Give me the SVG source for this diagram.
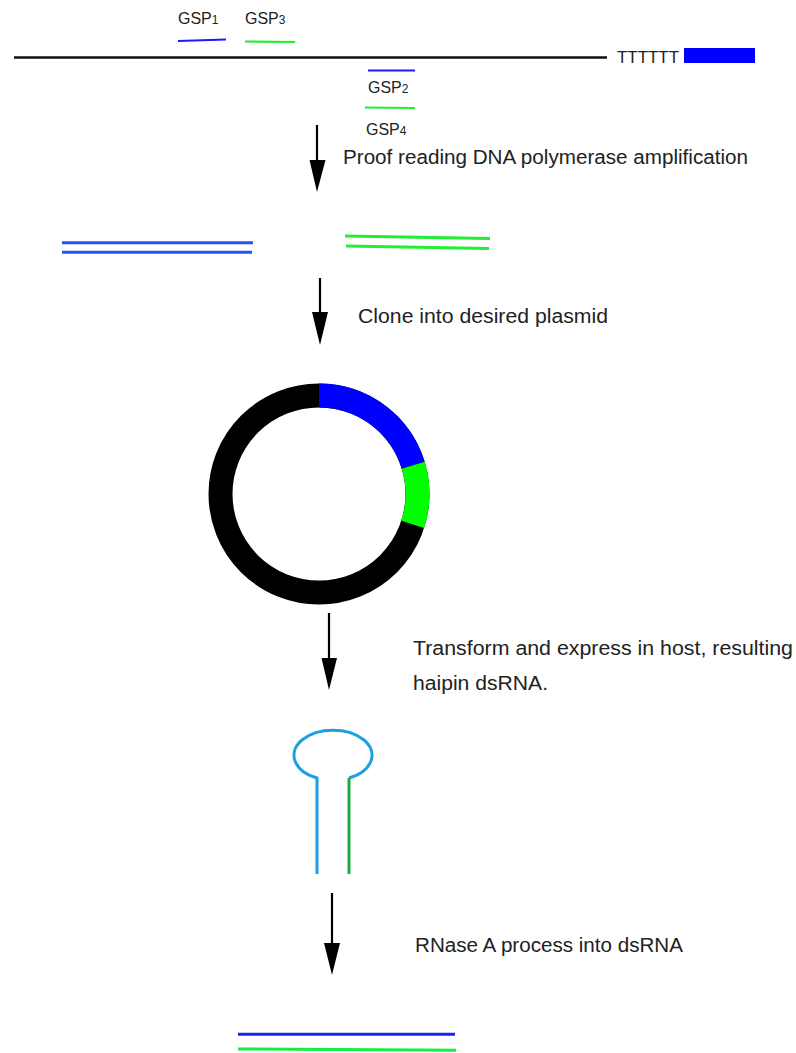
<svg xmlns="http://www.w3.org/2000/svg" width="796" height="1053" viewBox="0 0 796 1053">
<style>
.t{font-family:"Liberation Sans",Arial,sans-serif;fill:#222}
.lab{font-size:16px}
.sub{font-size:12px}
.step{font-size:20px}
.arr{stroke:#000;stroke-width:2.2;fill:none}
.head{fill:#000}
</style>
<rect width="796" height="1053" fill="#fff"/>
<g id="template">
<line x1="14" y1="57.5" x2="607" y2="57.5" stroke="#111" stroke-width="2.6"/>
<text class="t" x="617" y="63" font-size="17" textLength="62" lengthAdjust="spacingAndGlyphs" fill="#333">TTTTTT</text>
<rect x="684" y="48" width="71" height="15" fill="#0000ff"/>
</g>
<g id="primers">
<text class="t lab" x="178" y="24">GSP<tspan class="sub">1</tspan></text>
<text class="t lab" x="245" y="24">GSP<tspan class="sub">3</tspan></text>
<line x1="178" y1="41" x2="226" y2="39.5" stroke="#1a1aff" stroke-width="2.2"/>
<line x1="245" y1="41.5" x2="295" y2="42" stroke="#22ee33" stroke-width="2.2"/>
<line x1="368" y1="70.5" x2="415" y2="70.5" stroke="#1a1aff" stroke-width="2.2"/>
<text class="t lab" x="368" y="93">GSP<tspan class="sub">2</tspan></text>
<line x1="365" y1="107.5" x2="415" y2="108" stroke="#22ee33" stroke-width="2.2"/>
<text class="t lab" x="366" y="135">GSP<tspan class="sub">4</tspan></text>
</g>
<g id="pcr-products">
<line x1="62" y1="242.7" x2="253" y2="242.7" stroke="#2255f0" stroke-width="3"/>
<line x1="62" y1="252.3" x2="252" y2="252.3" stroke="#2255f0" stroke-width="3"/>
<line x1="345" y1="236" x2="490" y2="238.5" stroke="#22ee33" stroke-width="3"/>
<line x1="346" y1="246" x2="489" y2="248.5" stroke="#22ee33" stroke-width="3"/>
</g>
<g id="plasmid">
<circle cx="319" cy="494" r="98.5" fill="none" stroke="#000" stroke-width="24"/>
<path d="M319,395.5 A98.5,98.5 0 0 1 413.2,465.2" fill="none" stroke="#0000ff" stroke-width="24"/>
<path d="M413.2,465.2 A98.5,98.5 0 0 1 412.7,524.4" fill="none" stroke="#00ff00" stroke-width="24"/>
</g>
<g id="hairpin">
<path d="M317,874 L317,778 A39,25 0 1 1 349,778" fill="none" stroke="#1ba1e2" stroke-width="3"/>
<line x1="349" y1="778" x2="349" y2="874" stroke="#1fa845" stroke-width="3"/>
</g>
<g id="dsrna">
<line x1="238" y1="1034.3" x2="455" y2="1034.3" stroke="#2020ee" stroke-width="3"/>
<line x1="238" y1="1049" x2="456" y2="1050.3" stroke="#11ee44" stroke-width="3"/>
</g>
<g id="connectors">
<line class="arr" x1="317" y1="125" x2="317" y2="162"/>
<polygon class="head" points="309.5,160 325.5,160 317,192"/>
<line class="arr" x1="320" y1="278" x2="320" y2="314"/>
<polygon class="head" points="312,312 328,312 320,345"/>
<line class="arr" x1="329" y1="613" x2="329" y2="660"/>
<polygon class="head" points="321.5,658 337,658 329,690"/>
<line class="arr" x1="332" y1="893" x2="332" y2="945"/>
<polygon class="head" points="324,943 340,943 332,975"/>
</g>
<g id="labels">
<text class="t step" x="343" y="164" textLength="405" lengthAdjust="spacingAndGlyphs">Proof reading DNA polymerase amplification</text>
<text class="t step" x="358" y="323" textLength="250" lengthAdjust="spacingAndGlyphs">Clone into desired plasmid</text>
<text class="t step" x="413" y="655" textLength="380" lengthAdjust="spacingAndGlyphs">Transform and express in host, resulting</text>
<text class="t step" x="413" y="690" textLength="135" lengthAdjust="spacingAndGlyphs">haipin dsRNA.</text>
<text class="t step" x="415" y="952" textLength="268" lengthAdjust="spacingAndGlyphs">RNase A process into dsRNA</text>
</g>
</svg>
